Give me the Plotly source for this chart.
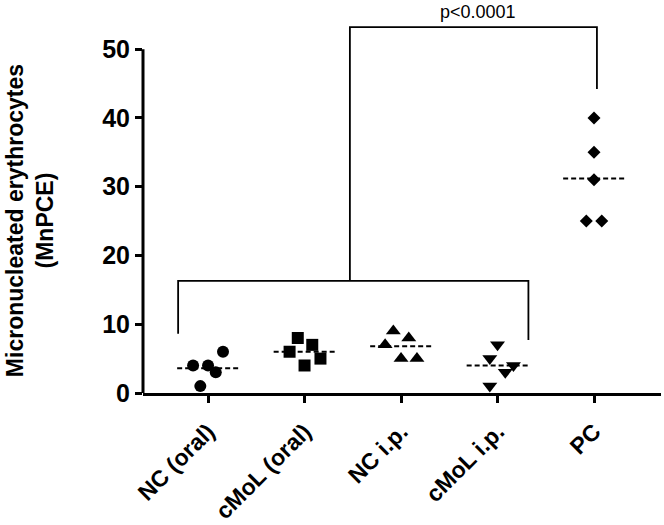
import numpy as np
import plotly.graph_objects as go

categories = ["NC (oral)", "cMoL (oral)", "NC i.p.", "cMoL i.p.", "PC"]
symbols = ["circle", "square", "triangle-up", "triangle-down", "diamond"]
sizes = [12, 12, 13, 13, 10]

nc_oral = [4, 4, 3, 6, 1]
cmol_oral = [8, 6, 7, 5, 4]
nc_ip = [9, 8, 7, 5, 5]
cmol_ip = [7, 5, 4, 3, 1]
pc = [40, 35, 31, 25, 25]
groups = [nc_oral, cmol_oral, nc_ip, cmol_ip, pc]

# horizontal scatter offsets (category units) as seen in the picture
jitter = [
    [-0.155, 0.0, 0.08, 0.155, -0.08],
    [-0.07, -0.155, 0.08, 0.165, 0.0],
    [-0.08, 0.08, -0.165, 0.0, 0.165],
    [0.0, -0.08, 0.165, 0.08, -0.08],
    [0.0, 0.0, 0.0, -0.08, 0.08],
]

y_ticks = [0, 10, 20, 30, 40, 50]
p_label = "p<0.0001"
FONT = "Liberation Sans, Arial"

fig = go.Figure()
for i, vals in enumerate(groups):
    xs = [i + j for j in jitter[i]]
    fig.add_trace(go.Scatter(
        x=xs, y=vals, mode="markers",
        marker=dict(symbol=symbols[i], size=sizes[i], color="black", line=dict(width=0)),
        showlegend=False, cliponaxis=False))
    m = float(np.mean(vals))
    fig.add_trace(go.Scatter(
        x=[i - 0.32, i + 0.32], y=[m, m], mode="lines",
        line=dict(color="black", width=2, dash="5px,3px"),
        showlegend=False, cliponaxis=False))

# brackets
fig.add_trace(go.Scatter(
    x=[-0.31, -0.31, 3.32, 3.32], y=[8.6, 16.3, 16.3, 7.7], mode="lines",
    line=dict(color="black", width=1.8), showlegend=False))
fig.add_trace(go.Scatter(
    x=[1.47, 1.47, 4.03, 4.03], y=[16.3, 53.2, 53.2, 44.2], mode="lines",
    line=dict(color="black", width=1.8), showlegend=False))

fig.add_annotation(x=2.8, y=55.4, xref="x", yref="y", text=p_label, showarrow=False,
                   font=dict(family=FONT, size=18, color="black"))

# y-axis title
fig.add_annotation(x=-0.218, y=25.0, xref="paper", yref="y", textangle=-90,
                   text="<b>Micronucleated erythrocytes<br>(MnPCE)</b>", showarrow=False,
                   xanchor="center", yanchor="middle",
                   font=dict(family=FONT, size=23, color="black"))

# y-axis line (only up to 50)
fig.add_shape(type="line", xref="paper", yref="y", x0=0, x1=0, y0=0, y1=50,
              line=dict(color="black", width=3))

fig.update_layout(
    width=664, height=525,
    margin=dict(l=143, r=3, t=1, b=132, autoexpand=False),
    plot_bgcolor="white", paper_bgcolor="white",
    font=dict(family=FONT, color="black"),
    xaxis=dict(
        range=[-0.674, 4.694], tickmode="array", tickvals=list(range(5)),
        ticktext=["<b>%s</b>" % c for c in categories], tickangle=-45,
        showline=True, linecolor="black", linewidth=3, ticks="outside",
        ticklen=7, tickwidth=3, tickcolor="black", showgrid=False, zeroline=False,
        ticklabelstandoff=6, automargin=False,
        tickfont=dict(size=23, family=FONT, color="black"),
    ),
    yaxis=dict(
        range=[0, 57], tickmode="array", tickvals=y_ticks,
        ticktext=["<b>%d</b>" % v for v in y_ticks],
        showline=False, ticks="outside", automargin=False,
        ticklen=7, tickwidth=3, tickcolor="black", showgrid=False, zeroline=False,
        tickfont=dict(size=25, family=FONT, color="black"),
    ),
)

fig.write_html("out.html")
